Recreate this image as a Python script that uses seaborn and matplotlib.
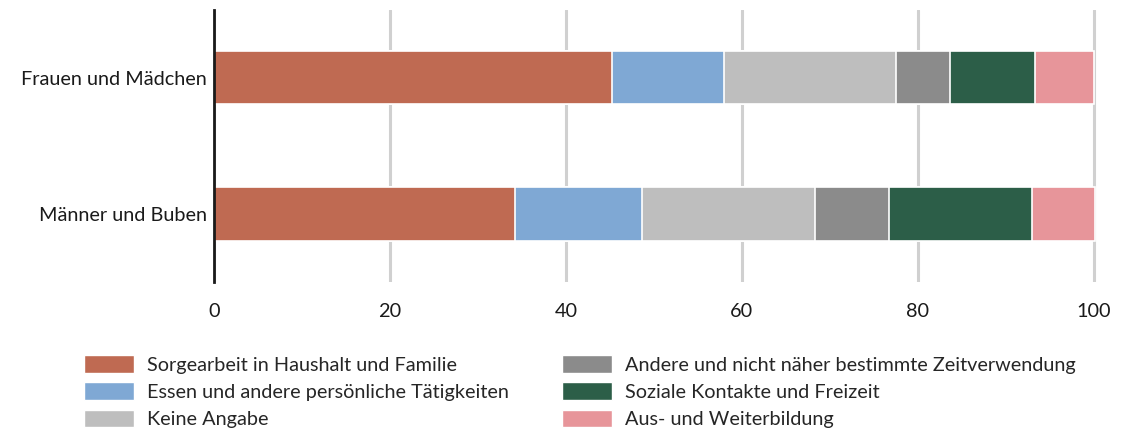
import matplotlib
matplotlib.use("Agg")
import matplotlib.pyplot as plt
from matplotlib.patches import Patch
import numpy as np
import pandas as pd
import seaborn as sns

# Data (percent of time use)
GROUPS = ["Frauen und Mädchen", "Männer und Buben"]
CATEGORIES = [
    "Sorgearbeit in Haushalt und Familie",
    "Essen und andere persönliche Tätigkeiten",
    "Keine Angabe",
    "Andere und nicht näher bestimmte Zeitverwendung",
    "Soziale Kontakte und Freizeit",
    "Aus- und Weiterbildung",
]
FRAUEN = [45.2, 12.8, 19.5, 6.2, 9.6, 6.7]
MAENNER = [34.2, 14.5, 19.6, 8.4, 16.3, 7.2]
COLORS = ["#BF6A52", "#7FA8D4", "#BEBEBE", "#8B8B8B", "#2C5E48", "#E7959A"]

sns.set_theme(style="white")
plt.rcParams["font.family"] = ["Lato", "DejaVu Sans"]
FS = 14.3

df = pd.DataFrame({"Gruppe": GROUPS})
for cat, f, m in zip(CATEGORIES, FRAUEN, MAENNER):
    df[cat] = [f, m]
cum = df[CATEGORIES].cumsum(axis=1)

fig = plt.figure(figsize=(11.37, 4.33), dpi=100)
ax = fig.add_axes([0.1882, 0.3487, 0.9657 - 0.1882, 0.977 - 0.3487])

# stacked bars: draw cumulative totals from largest to smallest
for cat, color in reversed(list(zip(CATEGORIES, COLORS))):
    sns.barplot(x=cum[cat], y=df["Gruppe"], orient="h", color=color,
                width=0.39, edgecolor="white", linewidth=1.2,
                saturation=1, ax=ax, zorder=3)

ax.set_xlim(0, 100.5)
ax.set_ylim(1.5, -0.5)
ax.set_xticks([0, 20, 40, 60, 80, 100])
ax.xaxis.grid(True, color="#D0D0D0", linewidth=2.2, zorder=0)
ax.set_axisbelow(True)
ax.set_xlabel("")
ax.set_ylabel("")
for side in ["top", "right", "bottom"]:
    ax.spines[side].set_visible(False)
ax.spines["left"].set_color("#1a1a1a")
ax.spines["left"].set_linewidth(2)
ax.spines["left"].set_zorder(5)
ax.tick_params(axis="x", length=0, pad=15, labelsize=FS, colors="#1a1a1a")
ax.tick_params(axis="y", length=0, pad=5, labelsize=FS, colors="#1a1a1a")

handles = [Patch(facecolor=c, edgecolor="white", label=l) for c, l in zip(COLORS, CATEGORIES)]
fig.legend(handles=handles, loc="upper left", bbox_to_anchor=(0.074, 0.180),
           ncol=2, frameon=False, fontsize=FS, handlelength=2.5, handleheight=1.0,
           handletextpad=0.65, labelspacing=0.43, columnspacing=2.7,
           borderaxespad=0, borderpad=0)

fig.savefig("out.png", dpi=100)
